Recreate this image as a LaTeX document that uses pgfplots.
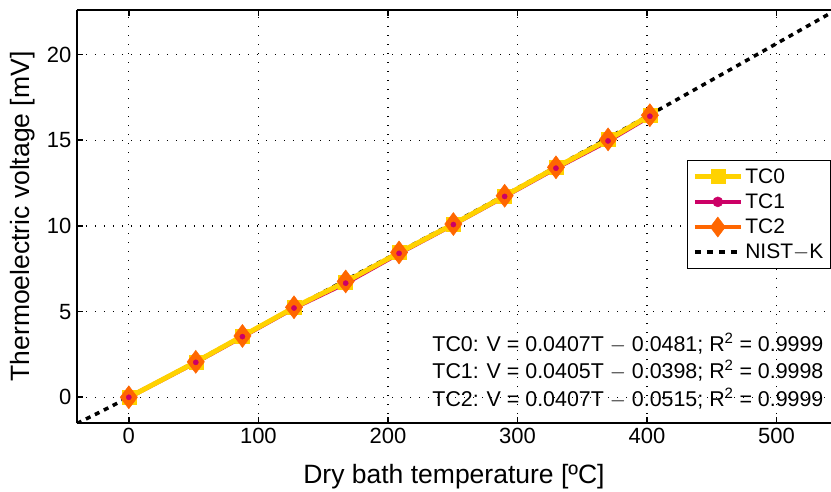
\documentclass[border=0pt]{standalone}
\usepackage{pgfplots}
\pgfplotsset{compat=1.18}
\usepackage{fontspec}
\setmainfont{Liberation Sans}
\definecolor{tcyellow}{RGB}{255,210,0}
\definecolor{tcmag}{RGB}{204,0,102}
\definecolor{tcorange}{RGB}{255,102,0}
\pgfplotsset{longleg/.style={legend image code/.code={
    \draw[mark=none] (0pt,0pt) -- (46pt,0pt);
    \draw[solid] plot coordinates {(23pt,0pt)};}}}
\begin{document}
\begin{tikzpicture}[x=1pt,y=1pt]
\useasboundingbox (-77,-68) rectangle (754,423);
\begin{axis}[
  at={(0,0)}, anchor=south west,
  scale only axis,
  width=754pt, height=413pt,
  xmin=-40, xmax=542, ymin=-1.5, ymax=22.6,
  axis x line*=box, axis y line*=left,
  axis line style={line width=2.6pt},
  xtick={0,100,200,300,400,500},
  ytick={0,5,10,15,20},
  tick align=inside,
  major tick length=6pt,
  every tick/.style={black, line width=1.6pt},
  xtick pos=both,
  grid=major,
  major grid style={black, line width=1.3pt, dash pattern=on 1.3pt off 7.7pt},
  tick label style={font=\fontsize{22}{26}\selectfont},
  /pgf/number format/assume math mode=true,
  label style={font=\fontsize{26.5}{30}\selectfont},
  xlabel={Dry bath temperature [ºC]},
  ylabel={Thermoelectric voltage [mV]},
  xlabel style={yshift=-13pt},
  ylabel style={yshift=5pt},
  xticklabel style={yshift=-2pt},
  yticklabel style={xshift=-2pt},
  legend style={at={(rel axis cs:1,0.637)}, anchor=north east,
    font=\fontsize{21}{24}\selectfont, draw=black, line width=1.4pt,
    row sep=5pt, inner xsep=5pt, inner ysep=6pt},
  legend cell align=left,
  clip=true,
]
\addlegendimage{longleg, tcyellow, line width=5pt, mark=square*, mark size=7pt, mark options={solid, line width=0.5pt}}
\addlegendentry{TC0}
\addlegendimage{longleg, tcmag, line width=4.5pt, mark=*, mark size=5pt, mark options={line width=0.5pt}}
\addlegendentry{TC1}
\addlegendimage{longleg, tcorange, line width=4.5pt, mark=diamond*, mark size=10pt, mark options={fill=tcorange, line width=0.5pt}}
\addlegendentry{TC2}
\addlegendimage{longleg, black, line width=4pt, dash pattern=on 6pt off 6pt, mark=none}
\addlegendentry{NIST$-$K}

% NIST K reference
\addplot[black, line width=3.5pt, dash pattern=on 5pt off 5pt, forget plot] table {
-40 -1.527
-20 -0.778
0 0
20 0.798
40 1.612
60 2.436
80 3.267
100 4.096
120 4.920
140 5.735
160 6.540
180 7.340
200 8.138
220 8.940
240 9.747
260 10.561
280 11.382
300 12.209
320 13.040
340 13.874
360 14.713
380 15.554
400 16.397
420 17.243
440 18.091
460 18.941
480 19.792
500 20.644
520 21.497
540 22.350
560 23.198
};
% TC2 line
\addplot[tcorange, line width=3pt, forget plot] table {
0 0.00
51.7 2.07
87.7 3.58
127.5 5.25
167.4 6.76
208.6 8.45
250.5 10.11
290.1 11.76
329.7 13.42
369.9 15.05
402.2 16.46
};
% TC1 line
\addplot[tcmag, line width=4.5pt, forget plot] table {
0 0.00
51.7 2.04
87.7 3.54
127.5 5.21
167.4 6.66
208.6 8.40
250.5 10.08
290.1 11.72
329.7 13.37
369.9 14.96
402.2 16.40
};
% TC0 line + marks
\addplot[tcyellow, line width=5pt, mark=square*, mark size=7pt, mark options={solid, line width=0.5pt}, forget plot] table {
0 0.00
51.7 2.06
87.7 3.57
127.5 5.24
167.4 6.74
208.6 8.44
250.5 10.10
290.1 11.75
329.7 13.41
369.9 15.03
402.2 16.45
};
% TC2 marks
\addplot[only marks, mark=diamond*, mark size=11.5pt, color=tcorange, mark options={fill=tcorange, line width=0.5pt}, forget plot] table {
0 0.00
51.7 2.07
87.7 3.58
127.5 5.25
167.4 6.76
208.6 8.45
250.5 10.11
290.1 11.76
329.7 13.42
369.9 15.05
402.2 16.46
};
% TC1 marks
\addplot[only marks, mark=*, mark size=2.6pt, color=tcmag, forget plot] table {
0 0.00
51.7 2.04
87.7 3.54
127.5 5.21
167.4 6.66
208.6 8.40
250.5 10.08
290.1 11.72
329.7 13.37
369.9 14.96
402.2 16.40
};
\node[anchor=east, font=\fontsize{21.4}{24}\selectfont, inner sep=0pt] at (axis cs:536.3,3.13) {TC0: V = 0.0407T $-$ 0.0481; R\textsuperscript{2} = 0.9999};
\node[anchor=east, font=\fontsize{21.4}{24}\selectfont, inner sep=0pt] at (axis cs:536.3,1.55) {TC1: V = 0.0405T $-$ 0.0398; R\textsuperscript{2} = 0.9998};
\node[anchor=east, font=\fontsize{21.4}{24}\selectfont, inner sep=0pt] at (axis cs:536.3,-0.08) {TC2: V = 0.0407T $-$ 0.0515; R\textsuperscript{2} = 0.9999};
\end{axis}
\end{tikzpicture}
\end{document}
